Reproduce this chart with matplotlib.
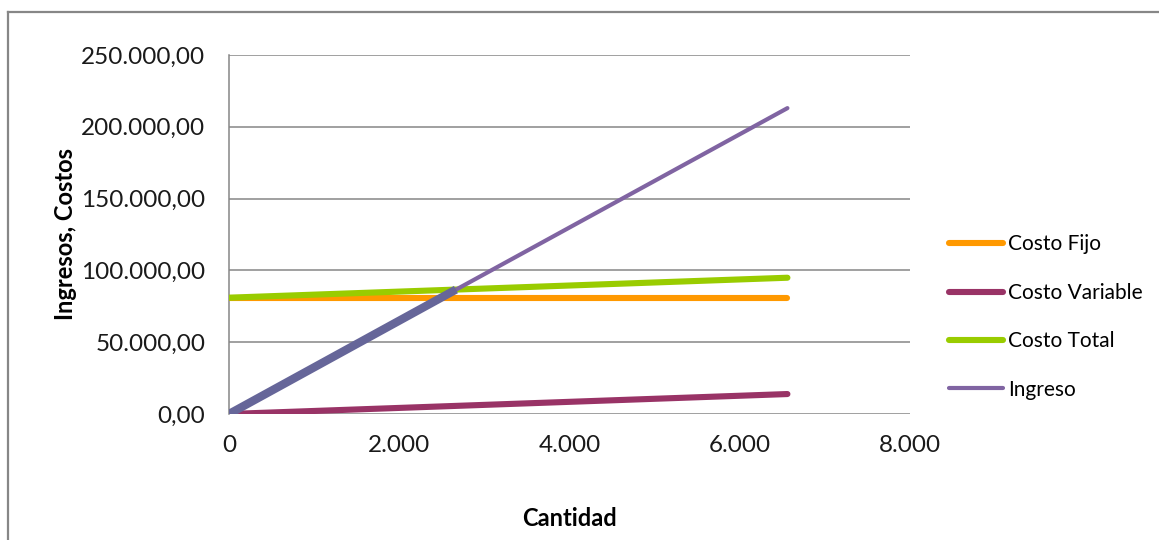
import matplotlib.pyplot as plt
from matplotlib.lines import Line2D
from matplotlib.ticker import FuncFormatter, MultipleLocator

# datos
cantidad = [0, 6560]
costo_fijo = [81000, 81000]
costo_variable = [0, 13900]
costo_total = [81000, 94900]
ingreso = [0, 213000]
# tramo hasta el punto de equilibrio
equilibrio_x = [0, 2666]
equilibrio_y = [0, 86650]

plt.rcParams['font.family'] = ['Lato', 'DejaVu Sans']

fig = plt.figure(figsize=(11.59, 5.40), dpi=100)
ax = fig.add_axes([229 / 1159, 126 / 540, 681 / 1159, 359 / 540])

ax.plot(cantidad, costo_fijo, color='#FF9900', lw=4.4, solid_capstyle='round', label='Costo Fijo', zorder=3)
ax.plot(cantidad, costo_variable, color='#993366', lw=4.4, solid_capstyle='round', label='Costo Variable', zorder=3)
ax.plot(cantidad, costo_total, color='#99CC00', lw=4.4, solid_capstyle='round', label='Costo Total', zorder=3)
ax.plot(cantidad, ingreso, color='#8064A2', lw=3.0, solid_capstyle='round', label='Ingreso', zorder=4)
ax.plot(equilibrio_x, equilibrio_y, color='#666699', lw=6.0, solid_capstyle='butt', zorder=5)

ax.set_xlim(0, 8000)
ax.set_ylim(0, 250000)
ax.xaxis.set_major_locator(MultipleLocator(2000))
ax.yaxis.set_major_locator(MultipleLocator(50000))


def fmt_y(v, pos):
    s = f"{v:,.2f}"
    return s.replace(',', 'X').replace('.', ',').replace('X', '.')


def fmt_x(v, pos):
    return f"{v:,.0f}".replace(',', '.')


ax.yaxis.set_major_formatter(FuncFormatter(fmt_y))
ax.xaxis.set_major_formatter(FuncFormatter(fmt_x))

ax.grid(axis='y', color='#868686', lw=1.1)
ax.set_axisbelow(True)
for side in ['top', 'right', 'bottom']:
    ax.spines[side].set_visible(False)
ax.spines['left'].set_color('#868686')
ax.spines['left'].set_linewidth(1.1)
ax.tick_params(length=0, labelsize=17.5, colors='#1a1a1a')
ax.tick_params(axis='x', pad=15)
ax.tick_params(axis='y', pad=17)

ax.set_xlabel('Cantidad', fontsize=17, fontweight='bold', labelpad=37)
ax.set_ylabel('Ingresos, Costos', fontsize=17, fontweight='bold', labelpad=3)

ax.legend(loc='center left', bbox_to_anchor=(949 / 1159, 1 - 317 / 540), bbox_transform=fig.transFigure,
          frameon=False, fontsize=15, handlelength=2.6, handletextpad=0.22, labelspacing=1.36,
          borderaxespad=0, borderpad=0)

# borde del area del grafico
fig.add_artist(Line2D([8 / 1159, 1.0], [1 - 12 / 540, 1 - 12 / 540], transform=fig.transFigure,
                      color='#878787', lw=1.6))
fig.add_artist(Line2D([8 / 1159, 8 / 1159], [0, 1 - 12 / 540], transform=fig.transFigure,
                      color='#878787', lw=1.6))

fig.savefig('out.png', dpi=100)
